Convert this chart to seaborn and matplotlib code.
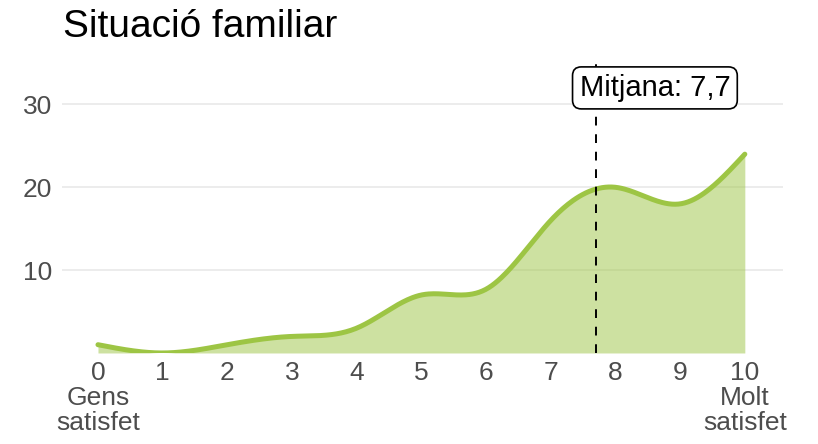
import numpy as np
import pandas as pd
import matplotlib.pyplot as plt
import seaborn as sns

# scores 0..10 and percentage of responses
scores = np.arange(0, 11)
percent = [1, 0, 1, 2, 3, 7, 7.7, 16, 20, 18, 24]
mean_value = 7.7
tick_labels = ["0\nGens\nsatisfet", "1", "2", "3", "4", "5", "6", "7", "8", "9", "10\nMolt\nsatisfet"]

line_color = "#9dc544"


def natural_spline(x, y, n=400):
    # plain natural cubic spline, only used to draw a smooth curve
    x = np.asarray(x, float)
    y = np.asarray(y, float)
    k = len(x)
    h = np.diff(x)
    A = np.zeros((k, k))
    b = np.zeros(k)
    A[0, 0] = A[-1, -1] = 1
    for i in range(1, k - 1):
        A[i, i - 1] = h[i - 1]
        A[i, i] = 2 * (h[i - 1] + h[i])
        A[i, i + 1] = h[i]
        b[i] = 6 * ((y[i + 1] - y[i]) / h[i] - (y[i] - y[i - 1]) / h[i - 1])
    M = np.linalg.solve(A, b)
    xs = np.linspace(x[0], x[-1], n)
    idx = np.clip(np.searchsorted(x, xs) - 1, 0, k - 2)
    x0, x1 = x[idx], x[idx + 1]
    hh = x1 - x0
    t0, t1 = x1 - xs, xs - x0
    ys = (M[idx] * t0**3 + M[idx + 1] * t1**3) / (6 * hh) \
        + (y[idx] / hh - M[idx] * hh / 6) * t0 \
        + (y[idx + 1] / hh - M[idx + 1] * hh / 6) * t1
    return xs, ys


xs, ys = natural_spline(scores, percent)
smooth = pd.DataFrame({"score": xs, "pct": ys})

sns.set_style("white")
plt.rcParams["font.family"] = ["Liberation Sans", "DejaVu Sans"]

fig = plt.figure(figsize=(8.18, 4.44), dpi=100)
ax = fig.add_axes([0.0758, 0.205, 0.8814, 0.653])

ax.fill_between(smooth["score"], 0, smooth["pct"], color=line_color, alpha=0.5, linewidth=0)
sns.lineplot(data=smooth, x="score", y="pct", color=line_color, linewidth=3.6, ax=ax)

ax.axvline(mean_value, color="black", linestyle=(0, (4.5, 4.5)), linewidth=1.4)
ax.text(8.61, 32, "Mitjana: 7,7", ha="center", va="center", fontsize=21, color="black",
        bbox=dict(boxstyle="round,pad=0.24,rounding_size=0.3", fc="white", ec="black", lw=1.2))

ax.set_xlim(-0.556, 10.59)
ax.set_ylim(0, 35)
ax.set_yticks([10, 20, 30])
ax.set_xticks(scores)
ax.set_xticklabels(tick_labels)
ax.yaxis.grid(True, color="#ebebeb", linewidth=1.3)
ax.set_axisbelow(True)
for s in ax.spines.values():
    s.set_visible(False)
ax.tick_params(axis="both", length=0, labelsize=19, labelcolor="#4d4d4d")
ax.tick_params(axis="y", pad=7)
ax.tick_params(axis="x", pad=6)
for lbl in ax.get_xticklabels():
    lbl.set_linespacing(1.05)
    lbl.set_va("top")
ax.set_xlabel("")
ax.set_ylabel("")

fig.text(0.077, 0.94, "Situació familiar", fontsize=28, color="black", ha="left", va="center")

fig.savefig("out.png", dpi=100)
